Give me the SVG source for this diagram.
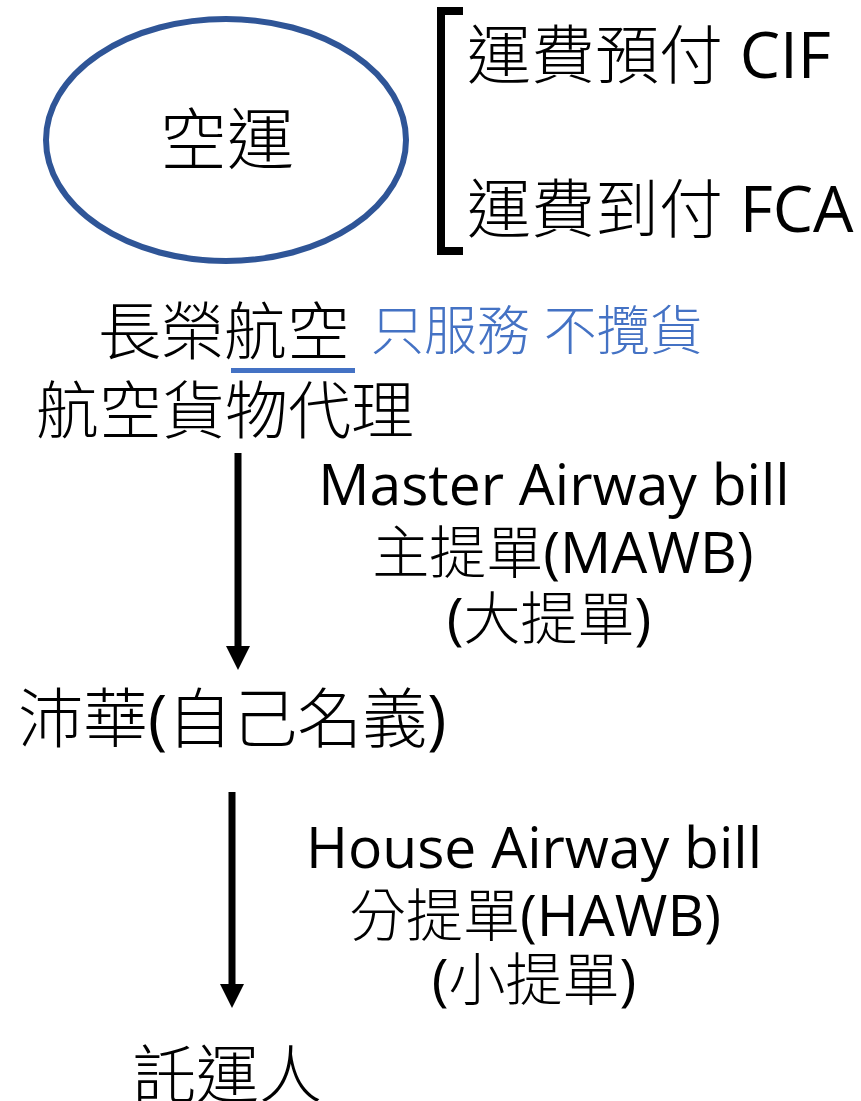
<svg xmlns="http://www.w3.org/2000/svg" width="861" height="1101" viewBox="0 0 861 1101">
<style>
text{font-family:"Open Sans","Noto Sans CJK TC",sans-serif;fill:#000;font-weight:300;}
.lat{font-weight:400;}
.big{font-size:63px;}
.mid{font-size:57px;}
.blue{fill:#4472C4;font-size:53px;}
.conn{stroke:#000;stroke-width:7;fill:none;}
</style>
<defs>
<marker id="ah" markerUnits="userSpaceOnUse" markerWidth="28" markerHeight="28" refX="24" refY="12" orient="auto" overflow="visible">
<path d="M0,0 L24,12 L0,24 Z" fill="#000"/>
</marker>
</defs>
<rect width="861" height="1101" fill="#fff"/>
<g id="air">
<ellipse cx="226" cy="140" rx="180" ry="121" fill="none" stroke="#2F5597" stroke-width="6"/>
<text x="227" y="164" font-size="67" text-anchor="middle">空運</text>
</g>
<g id="bracket">
<path d="M463,11 H441 V251 H463" fill="none" stroke="#000" stroke-width="8"/>
</g>
<g id="cif"><text x="467" y="78" font-size="64">運費預付 <tspan class="lat">CIF</tspan></text></g>
<g id="fca"><text x="467" y="232" font-size="64">運費到付 <tspan class="lat">FCA</tspan></text></g>
<g id="evergreen">
<text class="big" x="98" y="354">長榮航空</text>
<text class="blue" x="371" y="350">只服務 不攬貨</text>
<rect x="231" y="368" width="124" height="5" fill="#4472C4"/>
</g>
<g id="agent"><text class="big" x="36" y="433">航空貨物代理</text></g>
<g id="forwarder"><text x="18" y="742" font-size="65">沛華<tspan class="lat">(</tspan>自己名義<tspan class="lat">)</tspan></text></g>
<g id="shipper"><text class="big" x="133" y="1097">託運人</text></g>
<g id="mawb-label">
<text class="mid lat" x="554" y="505" text-anchor="middle">Master Airway bill</text>
<text class="mid" x="563" y="573" text-anchor="middle">主提單<tspan class="lat">(MAWB)</tspan></text>
<text class="mid" x="549" y="639" text-anchor="middle"><tspan class="lat">(</tspan>大提單<tspan class="lat">)</tspan></text>
</g>
<g id="hawb-label">
<text class="mid lat" x="534" y="868" text-anchor="middle">House Airway bill</text>
<text class="mid" x="535" y="936" text-anchor="middle">分提單<tspan class="lat">(HAWB)</tspan></text>
<text class="mid" x="534" y="1000" text-anchor="middle"><tspan class="lat">(</tspan>小提單<tspan class="lat">)</tspan></text>
</g>
<g id="connectors">
<line class="conn" x1="238" y1="453" x2="238" y2="650"/>
<line class="conn" x1="238" y1="453" x2="238" y2="670" stroke-opacity="0" marker-end="url(#ah)"/>
<line class="conn" x1="232" y1="792" x2="232" y2="990"/>
<line class="conn" x1="232" y1="792" x2="232" y2="1008" stroke-opacity="0" marker-end="url(#ah)"/>
</g>
</svg>
